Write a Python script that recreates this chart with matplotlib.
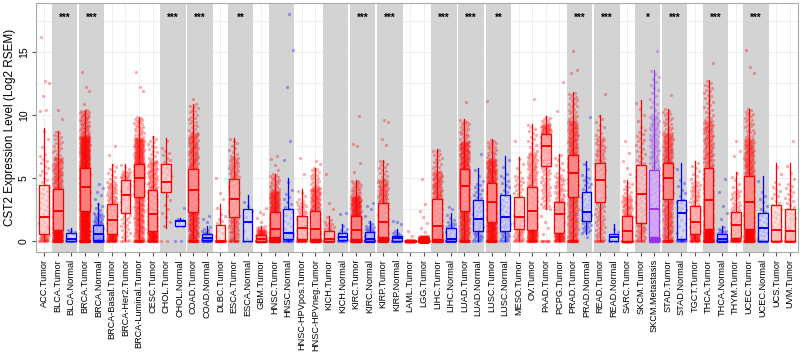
import numpy as np
import matplotlib
matplotlib.use('Agg')
import matplotlib.pyplot as plt
from matplotlib.patches import Rectangle

plt.rcParams['font.family'] = ['Liberation Sans', 'DejaVu Sans']

###
# Data
###
labels = ['ACC.Tumor', 'BLCA.Tumor', 'BLCA.Normal', 'BRCA.Tumor', 'BRCA.Normal',
          'BRCA-Basal.Tumor', 'BRCA-Her2.Tumor', 'BRCA-Luminal.Tumor', 'CESC.Tumor',
          'CHOL.Tumor', 'CHOL.Normal', 'COAD.Tumor', 'COAD.Normal', 'DLBC.Tumor',
          'ESCA.Tumor', 'ESCA.Normal', 'GBM.Tumor', 'HNSC.Tumor', 'HNSC.Normal',
          'HNSC-HPVpos.Tumor', 'HNSC-HPVneg.Tumor', 'KICH.Tumor', 'KICH.Normal',
          'KIRC.Tumor', 'KIRC.Normal', 'KIRP.Tumor', 'KIRP.Normal', 'LAML.Tumor',
          'LGG.Tumor', 'LIHC.Tumor', 'LIHC.Normal', 'LUAD.Tumor', 'LUAD.Normal',
          'LUSC.Tumor', 'LUSC.Normal', 'MESO.Tumor', 'OV.Tumor', 'PAAD.Tumor',
          'PCPG.Tumor', 'PRAD.Tumor', 'PRAD.Normal', 'READ.Tumor', 'READ.Normal',
          'SARC.Tumor', 'SKCM.Tumor', 'SKCM.Metastasis', 'STAD.Tumor', 'STAD.Normal',
          'TGCT.Tumor', 'THCA.Tumor', 'THCA.Normal', 'THYM.Tumor', 'UCEC.Tumor',
          'UCEC.Normal', 'UCS.Tumor', 'UVM.Tumor']

q1 = [0.5, 0.85, 0.0, 2.4, 0.05, 0.5, 2.2, 3.5, 0.75, 3.9, 1.2, 2.25, 0.05, 0.0,
      1.9, 0.0, 0.0, 0.27, 0.1, 0.1, 0.1, 0.0, 0.05, 0.1, 0.0, 0.27, 0.0, 0.0,
      0.0, 0.1, 0.0, 2.4, 0.8, 1.5, 0.75, 0.93, 0.85, 5.95, 0.6, 3.5, 1.6, 3.1,
      0.0, 0.0, 1.4, 0.27, 3.35, 0.13, 0.53, 0.93, 0.0, 0.2, 0.93, 0.0, 0.0, 0.0]
med = [1.85, 2.35, 0.1, 4.3, 0.5, 1.65, 3.65, 5.0, 2.1, 4.7, 1.55, 4.0, 0.25, 0.0,
       3.3, 1.45, 0.15, 0.95, 0.6, 1.05, 0.93, 0.1, 0.27, 0.85, 0.13, 1.5, 0.2, 0.0,
       0.02, 1.2, 0.15, 4.35, 1.7, 3.05, 1.85, 1.9, 2.4, 7.5, 2.1, 5.35, 2.25, 4.8,
       0.3, 0.8, 3.7, 2.5, 5.0, 2.2, 1.45, 3.2, 0.1, 1.25, 3.05, 1.0, 0.85, 0.8]
q3 = [4.4, 4.1, 0.6, 5.8, 1.27, 2.95, 4.8, 6.1, 4.0, 6.1, 1.65, 5.7, 0.53, 1.27,
      4.9, 2.5, 0.48, 2.3, 2.5, 2.0, 2.4, 0.8, 0.58, 2.0, 0.66, 3.0, 0.4, 0.0,
      0.15, 3.3, 0.98, 5.7, 3.2, 4.55, 3.6, 3.5, 4.3, 8.45, 3.1, 6.8, 3.85, 6.2,
      0.53, 2.0, 6.0, 5.6, 6.2, 3.2, 2.8, 5.75, 0.53, 2.3, 5.15, 2.2, 2.85, 2.5]
wlo = [0, 0, 0, 0, 0, 0, 0, 0, 0, 1.0, 1.2, 0, 0, 0, 0, 0, 0, 0, 0, 0, 0, 0, 0, 0,
       0, 0, 0, 0, 0, 0, 0, 0, 0, 0, 0, 0, 0, 2.5, 0, 0, 0.55, 0, 0, 0, 0, 0, 0, 0,
       0, 0, 0, 0, 0, 0, 0, 0]
whi = [9.0, 8.7, 1.0, 10.4, 3.0, 6.1, 6.1, 9.85, 8.3, 8.2, 1.8, 10.9, 1.2, 2.9,
       8.15, 3.65, 1.2, 5.3, 5.0, 4.1, 5.8, 2.0, 1.3, 4.8, 1.6, 6.4, 0.9, 0.0,
       0.4, 7.3, 2.2, 9.65, 5.8, 8.05, 6.75, 6.65, 9.25, 9.9, 6.9, 11.8, 6.35, 10.0,
       1.3, 4.8, 11.2, 13.6, 10.5, 6.15, 6.3, 12.75, 1.2, 5.5, 10.5, 5.15, 6.2, 6.15]
n_samples = [79, 408, 19, 1100, 112, 190, 82, 566, 306, 36, 9, 458, 41, 48, 184, 11,
             166, 520, 44, 97, 421, 66, 25, 533, 72, 290, 32, 173, 516, 371, 50, 515,
             59, 501, 51, 87, 303, 179, 182, 497, 52, 166, 10, 262, 103, 368, 415, 35,
             156, 509, 59, 120, 545, 35, 57, 80]
n_zero = [6, 25, 4, 60, 15, 12, 3, 20, 20, 2, 2, 25, 8, 20, 10, 2, 40, 60, 5, 10, 50,
          15, 3, 50, 15, 25, 8, 160, 300, 35, 8, 25, 3, 30, 3, 5, 15, 8, 8, 25, 0, 8,
          2, 50, 5, 40, 20, 4, 10, 40, 20, 12, 40, 4, 8, 12]
outliers = [[10.3, 10.4, 11.5, 12.5, 12.7, 16.2], [9.7, 10.4], [], [10.9, 11.9, 12.2, 13.4],
            [3.3, 3.6, 3.9, 4.2, 4.5], [6.8, 7.5], [], [11.9, 12.2, 13.4], [], [],
            [2.6], [11.3], [1.5, 1.7, 2.0], [3.3, 3.8, 5.0], [], [], [1.5, 1.8, 2.1, 2.3, 2.6],
            [5.6, 6.0, 6.5, 6.7], [6.4, 7.9, 12.2, 15.2, 18.0], [5.3, 6.6], [6.1, 6.35],
            [2.5, 3.0, 5.3], [2.1, 2.2], [5.5, 6.2, 7.5, 7.7, 9.9], [2.0, 2.5, 2.8, 3.0],
            [7.6, 8.1, 9.45, 9.6], [1.3, 1.5, 1.6], [0.4, 0.75],
            [0.7, 1.0, 1.4, 1.9, 2.4, 2.9, 4.9], [], [2.5, 2.7], [11.0], [6.9], [11.1], [],
            [7.9], [11.25], [0.5, 1.0, 1.5, 2.0], [10.3, 12.6], [13.3, 13.6, 15.1],
            [9.85, 0.3], [11.7], [], [5.3, 5.8, 6.3, 7.0, 7.9], [], [15.1], [11.6], [], [],
            [14.1], [1.7, 2.2, 2.8, 3.9, 4.9], [6.7, 7.1, 7.9], [13.3, 13.8, 15.2], [], [], [7.9]]

# significance for tumour/normal pairs
sig_types = ['BLCA', 'BRCA', 'CHOL', 'COAD', 'ESCA', 'HNSC', 'KICH', 'KIRC', 'KIRP',
             'LIHC', 'LUAD', 'LUSC', 'PRAD', 'READ', 'SKCM', 'STAD', 'THCA', 'UCEC']
sig_marks = ['***', '***', '***', '***', '**', '', '', '***', '***',
             '***', '***', '**', '***', '***', '*', '***', '***', '***']

###
# Plot
###
colors = {'Tumor': '#FF0000', 'Normal': '#0000FF', 'Metastasis': '#9A32F0'}
fills = {'Tumor': (1.0, 0.82, 0.82, 0.6), 'Normal': (0.85, 0.85, 1.0, 0.6),
         'Metastasis': (0.9, 0.8, 1.0, 0.6)}

fig = plt.figure(figsize=(8.05, 3.56), dpi=100)
ax = fig.add_axes([0.0447, 0.292, 0.9466, 0.6996])
pos = np.arange(len(labels))

# grey band behind every tumour/normal pair
for i in range(len(labels) - 1):
    nxt = labels[i + 1].split('.')[-1]
    if nxt in ('Normal', 'Metastasis'):
        ax.add_patch(Rectangle((i - 0.44, -5), 1.88, 30, color='#D3D3D3', lw=0, zorder=1))
        t = labels[i].split('.')[0]
        if t in sig_types:
            ax.text(i + 0.5, 17.75, sig_marks[sig_types.index(t)], ha='center', va='center',
                    fontsize=7, fontweight='bold', zorder=5)

golden = 0.6180339887
for i in range(len(labels)):
    kind = labels[i].split('.')[-1]
    col = colors[kind]
    # spread the points of each group along its read box summary (thinning out above q3)
    m = n_samples[i] - n_zero[i] - len(outliers[i])
    p = (np.arange(m) + 0.5) / m
    knots = [wlo[i], q1[i], med[i], q3[i], q3[i] + 0.55 * (whi[i] - q3[i]), whi[i]]
    vals = np.interp(p, [0, 0.25, 0.5, 0.75, 0.95, 1.0], knots)
    vals = np.concatenate([np.zeros(n_zero[i]), vals, outliers[i]])
    jit = ((np.arange(len(vals)) * golden) % 1 - 0.5) * 0.7
    ax.scatter(i + jit, vals, s=5.5, color=col, alpha=0.33, lw=0, zorder=3)

    st = [dict(med=med[i], q1=q1[i], q3=q3[i], whislo=wlo[i], whishi=whi[i], fliers=[])]
    ax.bxp(st, positions=[i], widths=0.72, showcaps=False, showfliers=False,
           patch_artist=True, manage_ticks=False, zorder=4,
           boxprops=dict(facecolor=fills[kind], edgecolor=col, lw=0.9),
           whiskerprops=dict(color=col, lw=0.9),
           medianprops=dict(color=col, lw=1.4))

ax.set_xlim(-0.6, len(labels) - 0.4)
ax.set_ylim(-0.9, 18.9)
ax.set_xticks(pos)
ax.set_xticklabels(labels, rotation=90, fontsize=6.6)
ax.set_yticks([0, 5, 10, 15])
ax.set_yticklabels(['0', '5', '10', '15'], rotation=90, va='center', fontsize=7.5)
ax.set_yticks([2.5, 7.5, 12.5, 17.5], minor=True)
ax.tick_params(axis='both', length=3, color='#555555', pad=2)
ax.tick_params(axis='y', which='minor', length=0)
ax.grid(True, which='both', color='#EBEBEB', lw=0.6, zorder=0)
ax.set_axisbelow(True)
for s in ax.spines.values():
    s.set_color('#AAAAAA')
    s.set_linewidth(0.8)
ax.set_ylabel('CST2 Expression Level (Log2 RSEM)', fontsize=8.5, labelpad=2)

fig.savefig('out.png', dpi=100)
